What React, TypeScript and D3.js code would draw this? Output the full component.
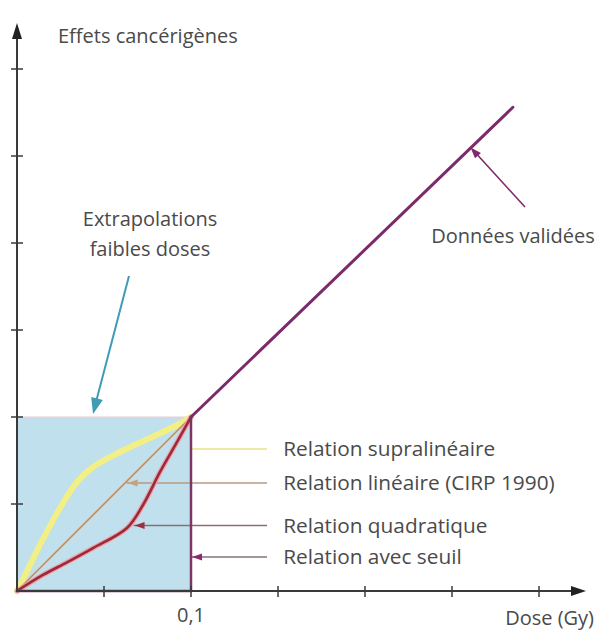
import React from "react";
import * as d3 from "d3";

// ---- data (dose in Gy, effect in arbitrary tick units) ----
const supraDose = [0, 0.0046, 0.0132, 0.0247, 0.0345, 0.0437, 0.0592, 0.0764, 0.092, 0.1];
const supraEffect = [0, 0.18, 0.529, 0.954, 1.253, 1.425, 1.598, 1.759, 1.908, 2];

const linDose = [0, 0.1];
const linEffect = [0, 2];

const quadDose = [0, 0.0149, 0.0287, 0.0437, 0.0632, 0.0724, 0.0822, 0.092, 0.1];
const quadEffect = [0, 0.184, 0.33, 0.494, 0.724, 0.989, 1.368, 1.713, 2];

const seuilDose = [0, 0.1, 0.1];
const seuilEffect = [0, 0, 2];

const validDose = [0.1, 0.285];
const validEffect = [2, 5.56];

const xTicks = [0.05, 0.1, 0.15, 0.2, 0.25, 0.3];
const xTickLabels = ["", "0,1", "", "", "", ""];
const yTicks = [1, 2, 3, 4, 5, 6];

const relationLabels = [
  "Relation supralinéaire",
  "Relation linéaire (CIRP 1990)",
  "Relation quadratique",
  "Relation avec seuil",
];
const relationLeaderEffect = [1.632, 1.241, 0.753, 0.391];
const relationLeaderDose = [0.1, 0.063, 0.067, 0.1];

const yTitle = "Effets cancérigènes";
const xTitle = "Dose (Gy)";
const extrapLines = ["Extrapolations", "faibles doses"];
const validLabel = "Données validées";

// ---- layout ----
const W = 601;
const H = 636;
const x0 = 17;
const yBase = 591;
const pxPerGy = 1740;
const pxPerUnit = 87;

export default function App() {
  const x = d3.scaleLinear().domain([0, 1]).range([x0, x0 + pxPerGy]);
  const y = d3.scaleLinear().domain([0, 1]).range([yBase, yBase - pxPerUnit]);

  const mk = (xs: number[], ys: number[], curve: any) =>
    d3
      .line<number>()
      .x((d, i) => x(xs[i]))
      .y((d, i) => y(ys[i]))
      .curve(curve)(xs) || "";

  const supraPath = mk(supraDose, supraEffect, d3.curveCatmullRom.alpha(0.5));
  const linPath = mk(linDose, linEffect, d3.curveLinear);
  const quadPath = mk(quadDose, quadEffect, d3.curveCatmullRom.alpha(0.5));
  const seuilPath = mk(seuilDose, seuilEffect, d3.curveLinear);
  const validPath = mk(validDose, validEffect, d3.curveLinear);

  const font = "'Open Sans', sans-serif";
  const textColor = "#4a4a4a";
  const axisColor = "#3a3a3a";
  const fs = 20;
  const fsRel = 20.8;

  const leaderColors = ["#efe9a6", "#b89a80", "#8a6f72", "#8a6f80"];
  const leaderArrow = [false, true, true, true];
  const leaderArrowColor = ["#efe9a6", "#c9a080", "#9a3040", "#8a2a6a"];
  const leaderEndX = x(0.1437);
  const labelX = x(0.153);

  const boxX1 = x(0.1);
  const boxY1 = y(2);

  // arrow from "Données validées" label to the validated data line
  const vA = { x1: 525, y1: 207 };
  const vTip = { x: x(0.2595), y: y(5.12) };

  // teal arrow from "Extrapolations" to the box
  const tA = { x1: 129, y1: 276 };
  const tTip = { x: 93, y: 414 };

  const arrowHead = (tx: number, ty: number, fx: number, fy: number, len: number, half: number) => {
    const ang = Math.atan2(ty - fy, tx - fx);
    const bx = tx - len * Math.cos(ang);
    const by = ty - len * Math.sin(ang);
    const px = -Math.sin(ang) * half;
    const py = Math.cos(ang) * half;
    return `M${tx},${ty}L${bx + px},${by + py}L${bx - px},${by - py}Z`;
  };

  return (
    <svg
      width={W}
      height={H}
      style={{ position: "absolute", left: 0, top: 0, background: "#fff" }}
      fontFamily={font}
    >
      <rect x={0} y={0} width={W} height={H} fill="#ffffff" />
      {/* low-dose extrapolation box */}
      <rect
        x={x(0)}
        y={boxY1}
        width={boxX1 - x(0)}
        height={yBase - boxY1}
        fill="#bfe0ec"
        stroke="#f2c9cf"
        strokeWidth={1}
      />

      {/* leader lines */}
      {relationLabels.map((lab, i) => {
        const ly = y(relationLeaderEffect[i]);
        const lx = x(relationLeaderDose[i]);
        return (
          <g key={lab}>
            <line
              x1={lx}
              x2={leaderEndX}
              y1={ly}
              y2={ly}
              stroke={leaderColors[i]}
              strokeWidth={i === 0 ? 2 : 1.5}
            />
            {leaderArrow[i] && (
              <path d={arrowHead(lx + 1, ly, lx + 20, ly, 10, 3.5)} fill={leaderArrowColor[i]} />
            )}
            <text x={labelX} y={ly} dy="0.35em" fontSize={fsRel} fill={textColor}>
              {lab}
            </text>
          </g>
        );
      })}

      {/* curves */}
      <path d={supraPath} fill="none" stroke="#f1ef86" strokeWidth={6} strokeLinecap="round" />
      <path d={linPath} fill="none" stroke="#c98b55" strokeWidth={1.6} />
      <path d={quadPath} fill="none" stroke="#f0a0a8" strokeWidth={5} strokeLinecap="round" />
      <path d={quadPath} fill="none" stroke="#9a2a3c" strokeWidth={2.6} strokeLinecap="round" />
      <path d={seuilPath} fill="none" stroke="#7d3566" strokeWidth={2.5} />
      <path d={validPath} fill="none" stroke="#7d2a6a" strokeWidth={3} strokeLinecap="round" />

      {/* axes */}
      <line x1={x0} x2={x0} y1={yBase + 1} y2={36} stroke={axisColor} strokeWidth={2} />
      <path d={`M${x0},23L${x0 - 5},39L${x0 + 5},39Z`} fill="#222" />
      <line x1={x0 - 1} x2={574} y1={yBase} y2={yBase} stroke={axisColor} strokeWidth={2} />
      <path d={`M586,${yBase}L571,${yBase - 5}L571,${yBase + 5}Z`} fill="#222" />
      {yTicks.map((t) => (
        <line key={t} x1={x0 - 6} x2={x0 + 6} y1={y(t)} y2={y(t)} stroke={axisColor} strokeWidth={1.5} />
      ))}
      {xTicks.map((t, i) => (
        <g key={t}>
          <line x1={x(t)} x2={x(t)} y1={yBase - 5} y2={yBase + 6} stroke={axisColor} strokeWidth={1.5} />
          {xTickLabels[i] && (
            <text x={x(t)} y={615} dy="0.35em" textAnchor="middle" fontSize={fs} fill={textColor}>
              {xTickLabels[i]}
            </text>
          )}
        </g>
      ))}

      {/* titles */}
      <text x={58} y={43} fontSize={fs} fill={textColor}>
        {yTitle}
      </text>
      <text x={594} y={618} dy="0.35em" textAnchor="end" fontSize={fs} fill={textColor}>
        {xTitle}
      </text>

      {/* extrapolation label + teal arrow */}
      {extrapLines.map((l, i) => (
        <text key={l} x={150} y={219 + i * 30} dy="0.35em" textAnchor="middle" fontSize={fs} fill={textColor}>
          {l}
        </text>
      ))}
      <line x1={tA.x1} y1={tA.y1} x2={tTip.x + 3} y2={tTip.y - 12} stroke="#3f9cb4" strokeWidth={2} />
      <path d={arrowHead(tTip.x, tTip.y, tA.x1, tA.y1, 16, 6)} fill="#3f9cb4" />

      {/* validated data label + arrow */}
      <text x={513} y={236} dy="0.35em" textAnchor="middle" fontSize={fs} fill={textColor}>
        {validLabel}
      </text>
      <line x1={vA.x1} y1={vA.y1} x2={vTip.x + 4} y2={vTip.y + 4} stroke="#7d2a6a" strokeWidth={1.6} />
      <path d={arrowHead(vTip.x + 2, vTip.y + 2, vA.x1, vA.y1, 11, 4)} fill="#7d2a6a" />
    </svg>
  );
}
